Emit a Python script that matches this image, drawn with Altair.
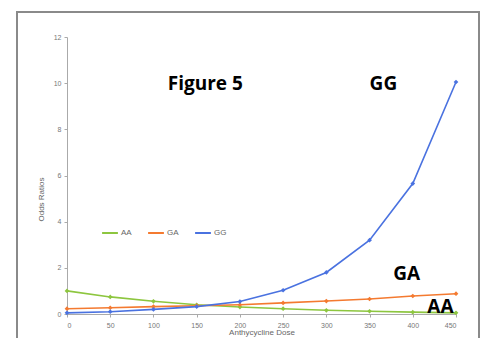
import altair as alt
import pandas as pd

doses = [0, 50, 100, 150, 200, 250, 300, 350, 400, 450]
aa = [1.00, 0.74, 0.55, 0.40, 0.30, 0.23, 0.16, 0.12, 0.08, 0.05]
ga = [0.23, 0.27, 0.32, 0.36, 0.40, 0.48, 0.56, 0.65, 0.78, 0.88]
gg = [0.05, 0.10, 0.20, 0.32, 0.54, 1.03, 1.80, 3.20, 5.65, 10.05]
series = ["AA", "GA", "GG"]
colors = ["#8dc63f", "#f47a30", "#4a72e0"]

ann_text = ["Figure 5", "GG", "GA", "AA"]
ann_x = [160, 366, 393, 432]
ann_y = [9.7, 9.7, 1.47, 0.04]

rows = []
for name, vals in zip(series, [aa, ga, gg]):
    for d, v in zip(doses, vals):
        rows.append({"dose": d, "odds": v, "genotype": name})
df = pd.DataFrame(rows)
ann = pd.DataFrame({"t": ann_text, "x": ann_x, "y": ann_y})
frame = pd.DataFrame({"k": [0]})

xs = alt.X("dose:Q", title="Anthycycline Dose",
           scale=alt.Scale(domain=[0, 450], nice=False),
           axis=alt.Axis(values=doses, grid=False, tickSize=3, labelPadding=4, titleY=14))
ys = alt.Y("odds:Q", title="Odds Ratios",
           scale=alt.Scale(domain=[0, 12], nice=False),
           axis=alt.Axis(values=[0, 2, 4, 6, 8, 10, 12], grid=False, tickSize=3,
                         titleX=-22, titleY=162))
col = alt.Color("genotype:N", scale=alt.Scale(domain=series, range=colors),
                legend=alt.Legend(title=None, orient="none", legendX=34, legendY=187,
                                  direction="horizontal", symbolType="stroke",
                                  symbolSize=250, symbolStrokeWidth=2,
                                  labelFontSize=8, labelColor="#666",
                                  labelFont="Liberation Sans", columnPadding=12,
                                  labelOffset=2))

lines = alt.Chart(df).mark_line(strokeWidth=1.6).encode(x=xs, y=ys, color=col)
pts = alt.Chart(df).mark_point(shape="diamond", filled=True, size=22, opacity=1).encode(
    x="dose:Q", y="odds:Q", color=alt.Color("genotype:N", legend=None))

texts = alt.Chart(ann).mark_text(font="Open Sans", fontWeight="bold", fontSize=19,
                                 baseline="alphabetic", align="center", color="#000").encode(
    x="x:Q", y="y:Q", text="t:N")

box = alt.Chart(frame).mark_rect(stroke="#8a8a8a", fill=None, strokeWidth=2).encode(
    x=alt.value(-50), x2=alt.value(412), y=alt.value(-25), y2=alt.value(330))

chart = alt.layer(box, lines, pts, texts).properties(
    width=389, height=277,
    autosize=alt.AutoSizeParams(type="none"),
    padding={"left": 59, "top": 29, "right": 24, "bottom": 24},
).configure_view(strokeWidth=0).configure_axis(
    labelFont="Liberation Sans", labelFontSize=7, labelColor="#777",
    titleFont="Liberation Sans", titleFontSize=8, titleColor="#666", titleFontWeight="normal",
    domainColor="#aaa", tickColor="#aaa", labelPadding=3,
)

chart.save("out.html", embed_options={"renderer": "svg", "actions": False})
